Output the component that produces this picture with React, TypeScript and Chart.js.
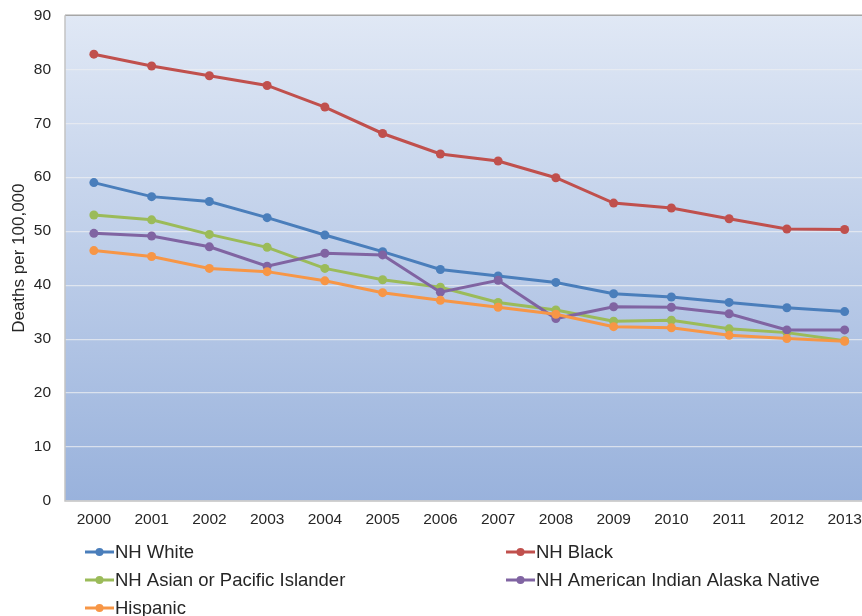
import React, { useEffect, useRef } from "react";
import { Chart, registerables } from "chart.js";

Chart.register(...registerables);

const years = ["2000", "2001", "2002", "2003", "2004", "2005", "2006", "2007", "2008", "2009", "2010", "2011", "2012", "2013"];
const nhWhite = [59.0, 56.4, 55.5, 52.5, 49.3, 46.2, 42.9, 41.7, 40.5, 38.4, 37.8, 36.8, 35.8, 35.1];
const nhBlack = [82.8, 80.6, 78.8, 77.0, 73.0, 68.1, 64.3, 63.0, 59.9, 55.2, 54.3, 52.3, 50.4, 50.3];
const nhAsianPI = [53.0, 52.1, 49.4, 47.0, 43.1, 41.0, 39.6, 36.8, 35.4, 33.3, 33.5, 31.9, 31.2, 29.7];
const nhAIAN = [49.6, 49.1, 47.1, 43.5, 45.9, 45.6, 38.7, 40.9, 33.8, 36.0, 35.9, 34.7, 31.7, 31.7];
const hispanic = [46.4, 45.3, 43.1, 42.5, 40.8, 38.6, 37.2, 35.9, 34.6, 32.3, 32.1, 30.7, 30.1, 29.6];
const yMin = 0;
const yMax = 90;
const yStep = 10;
const yTitle = "Deaths per 100,000";

const seriesNames = ["NH White", "NH Black", "NH Asian or Pacific Islander", "NH American Indian Alaska Native", "Hispanic"];
const seriesValues = [nhWhite, nhBlack, nhAsianPI, nhAIAN, hispanic];
const seriesColors = ["#4A7EBB", "#C0504D", "#9BBB59", "#8064A2", "#F79646"];

const FONT = "'Liberation Sans', Arial, Helvetica, sans-serif";
const TEXT = "#262626";
const SHIFT = 8;

const plotDecor = {
  id: "plotDecor",
  beforeDraw(chart: any) {
    const { ctx, chartArea } = chart;
    const { left, top, right, bottom } = chartArea;
    const g = ctx.createLinearGradient(0, top, 0, bottom);
    g.addColorStop(0, "#E0E8F5");
    g.addColorStop(1, "#99B2DC");
    ctx.save();
    ctx.fillStyle = g;
    ctx.fillRect(left, top, right - left, bottom - top);
    ctx.restore();
  },
  beforeDatasetsDraw(chart: any) {
    const { ctx, chartArea } = chart;
    const { left, top, right, bottom } = chartArea;
    ctx.save();
    ctx.lineWidth = 1.5;
    ctx.strokeStyle = "#A6A6A6";
    ctx.beginPath();
    ctx.moveTo(left, top);
    ctx.lineTo(right, top);
    ctx.stroke();
    ctx.strokeStyle = "#C4C4C4";
    ctx.beginPath();
    ctx.moveTo(left, top);
    ctx.lineTo(left, bottom);
    ctx.lineTo(right, bottom);
    ctx.stroke();
    ctx.restore();
  },
};

const gridLegend = {
  id: "gridLegend",
  afterDraw(chart: any) {
    const { ctx } = chart;
    const cols = [85, 506];
    const rows = [552 + SHIFT, 580 + SHIFT, 608 + SHIFT];
    ctx.save();
    ctx.font = `18.5px ${FONT}`;
    ctx.textBaseline = "middle";
    ctx.textAlign = "left";
    seriesNames.forEach((name, i) => {
      const x = cols[i % 2];
      const y = rows[Math.floor(i / 2)];
      const color = seriesColors[i];
      ctx.strokeStyle = color;
      ctx.lineWidth = 3;
      ctx.beginPath();
      ctx.moveTo(x, y);
      ctx.lineTo(x + 29, y);
      ctx.stroke();
      ctx.fillStyle = color;
      ctx.beginPath();
      ctx.arc(x + 14.5, y, 4, 0, Math.PI * 2);
      ctx.fill();
      ctx.fillStyle = TEXT;
      ctx.fillText(name, x + 30, y + 1);
    });
    ctx.restore();
  },
};

export default function App() {
  const canvasRef = useRef<HTMLCanvasElement | null>(null);

  useEffect(() => {
    if (!canvasRef.current) return;
    const chart = new Chart(canvasRef.current, {
      type: "line",
      data: {
        labels: years,
        datasets: seriesNames.map((name, i) => ({
          label: name,
          data: seriesValues[i],
          borderColor: seriesColors[i],
          backgroundColor: seriesColors[i],
          pointBackgroundColor: seriesColors[i],
          pointBorderColor: seriesColors[i],
          pointBorderWidth: 0,
          pointRadius: 4.5,
          borderWidth: 3,
          tension: 0,
          fill: false,
          order: seriesNames.length - i,
        })),
      },
      options: {
        responsive: false,
        animation: false,
        devicePixelRatio: 1,
        layout: { padding: { top: 6, left: 0, right: 0, bottom: 0 } },
        plugins: {
          legend: { display: false },
          tooltip: { enabled: false },
        },
        scales: {
          x: {
            type: "category",
            offset: true,
            grid: { display: false, drawTicks: false },
            border: { display: false },
            ticks: {
              color: TEXT,
              font: { family: FONT, size: 15.5 },
              padding: 9,
              maxRotation: 0,
              autoSkip: false,
            },
            afterFit(scale: any) {
              scale.height = 115;
            },
          },
          y: {
            min: yMin,
            max: yMax,
            grid: {
              color: "rgba(236,238,242,0.75)",
              lineWidth: 1.2,
              drawTicks: false,
            },
            border: { display: false },
            ticks: {
              stepSize: yStep,
              color: TEXT,
              font: { family: FONT, size: 15.5 },
              padding: 14,
            },
            title: {
              display: true,
              text: yTitle,
              color: TEXT,
              font: { family: FONT, size: 17 },
              padding: { top: 9, bottom: 0 },
            },
            afterFit(scale: any) {
              scale.width = 65;
            },
          },
        },
      },
      plugins: [plotDecor, gridLegend],
    });
    return () => chart.destroy();
  }, []);

  return (
    <div
      style={{
        position: "absolute",
        left: 0,
        top: 0,
        width: 862,
        height: 616,
        overflow: "hidden",
        background: "#fff",
      }}
    >
      <canvas
        ref={canvasRef}
        width={878}
        height={616 + SHIFT}
        style={{ display: "block", marginTop: -SHIFT }}
      />
    </div>
  );
}
